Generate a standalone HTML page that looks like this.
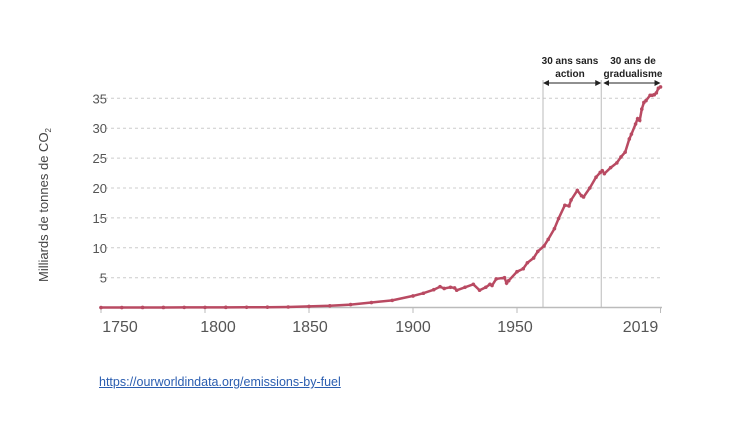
<!DOCTYPE html>
<html><head><meta charset="utf-8"><style>
body{margin:0;background:#fff;width:754px;height:424px;overflow:hidden;font-family:"Liberation Sans",sans-serif}
a{position:absolute;left:99px;top:375px;font-size:12.5px;color:#2a5db0;text-decoration:underline}
</style></head><body>
<svg id="chart" width="754" height="424" style="position:absolute;left:0;top:0"></svg>
<a>https://ourworldindata.org/emissions-by-fuel</a>
<script>
const years=[1750,1760,1770,1780,1790,1800,1810,1820,1830,1840,1850,1860,1870,1880,1890,1900,1905,1910,1913,1915,1918,1920,1921,1925,1929,1932,1935,1937,1938,1940,1944,1945,1946,1950,1953,1955,1958,1960,1963,1965,1968,1970,1973,1975,1976,1979,1981,1982,1985,1988,1990,1991,1992,1995,1998,2000,2002,2004,2005,2007,2008,2009,2010,2011,2012,2014,2015,2016,2017,2018,2019];
const values=[0.01,0.01,0.02,0.02,0.03,0.03,0.04,0.05,0.07,0.1,0.2,0.3,0.5,0.85,1.2,1.95,2.4,3.0,3.5,3.2,3.4,3.3,2.9,3.4,3.9,2.9,3.4,3.9,3.7,4.8,5.0,4.1,4.5,6.0,6.5,7.5,8.3,9.4,10.3,11.4,13.2,14.9,17.1,17.0,18.0,19.6,18.7,18.5,20.0,21.8,22.6,22.9,22.4,23.4,24.2,25.2,26.0,28.2,29.0,30.7,31.6,31.3,33.2,34.3,34.6,35.5,35.5,35.6,35.9,36.7,36.9];
const yTicks=[5,10,15,20,25,30,35];
const xTicks=[1750,1800,1850,1900,1950,2019];
const NS='http://www.w3.org/2000/svg';
const svg=document.getElementById('chart');
const X=y=>517+(y-1950)*2.08;
const Y=v=>307.6-v*5.98;
const labelShift={1750:19,1800:13,1850:1,1900:0,1950:-2,2019:-20};
function el(t,a,p){const e=document.createElementNS(NS,t);for(const k in a)e.setAttribute(k,a[k]);(p||svg).appendChild(e);return e;}
yTicks.forEach(v=>{
 const g=el('line',{x1:99,x2:662,y1:Y(v),y2:Y(v),stroke:'#ccc','stroke-dasharray':'3,3'});
 
 
 const t=el('text',{x:107,y:Y(v)+5,'text-anchor':'end','font-size':'13',fill:'#555'});t.textContent=v;
 
 
});
const ax=el('line',{x1:99,x2:662,y1:307.5,y2:307.5,stroke:'#bbb','stroke-width':'1.5'});


xTicks.forEach(yr=>{
 el('line',{x1:X(yr),x2:X(yr),y1:307,y2:313,stroke:'#bbb'});
 const t=el('text',{x:X(yr)+labelShift[yr],y:332,'text-anchor':'middle','font-size':'16',fill:'#555'});t.textContent=yr;
 
 
});
const yt=el('text',{transform:'translate(48,205) rotate(-90)','text-anchor':'middle','font-size':'13',fill:'#444'});
yt.innerHTML='Milliards de tonnes de CO<tspan font-size="8" dy="3">2</tspan>';


[1962.5,1990.5].forEach(yr=>{
 const l=el('line',{x1:X(yr),x2:X(yr),y1:80,y2:307,stroke:'#bbb'});
 
 
});
const defs=el('defs',{});
const m=el('marker',{id:'ah',markerWidth:6,markerHeight:6,refX:5,refY:3,orient:'auto-start-reverse'},defs);
el('path',{d:'M0,0L6,3L0,6z',fill:'#222'},m);
[[X(1962.5),X(1990.5)],[X(1990.5)+2,X(2019)]].forEach(p=>{
 const a=el('line',{x1:p[0]+1,x2:p[1]-1,y1:83,y2:83,stroke:'#222','marker-start':'url(#ah)','marker-end':'url(#ah)'});
 
 
});
[['30 ans sans','action',570],['30 ans de','gradualisme',633]].forEach(s=>{
 const t=el('text',{x:s[2],y:64,'text-anchor':'middle','font-size':'10','font-weight':'bold',fill:'#222'});
 t.innerHTML=s[0]+'<tspan x="'+s[2]+'" dy="13">'+s[1]+'</tspan>';
 
 
});
const d=years.map((y,i)=>(i?'L':'M')+X(y).toFixed(1)+','+Y(values[i]).toFixed(1)).join('');
const ln=el('path',{d:d,fill:'none',stroke:'#b94a62','stroke-width':'2.5'});


years.forEach((y,i)=>{
 const c=el('circle',{cx:X(y),cy:Y(values[i]),r:1.8,fill:'#b94a62'});
 
 
});
</script>
</body></html>
